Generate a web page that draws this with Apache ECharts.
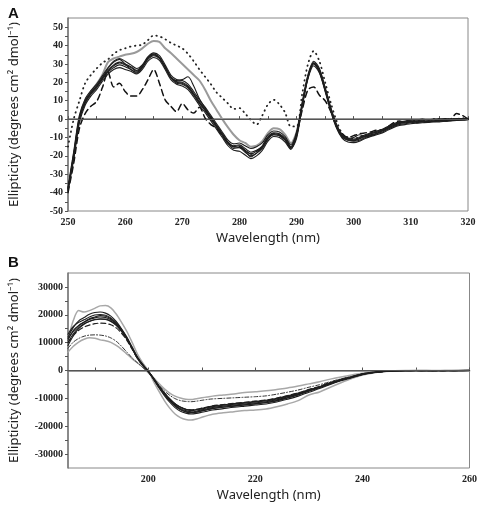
<!DOCTYPE html>
<html>
<head>
<meta charset="utf-8">
<script src="https://cdn.jsdelivr.net/npm/echarts@6/dist/echarts.min.js"></script>
<style>
html,body{margin:0;padding:0;background:#fff;}
#chart{width:480px;height:505px;}
</style>
</head>
<body>
<div id="chart"></div>
<script>
// ---------- Panel A data (near-UV CD) ----------
const wlA = [250,251,252,253,254,255,256,257,258,259,260,261,262,263,264,265,266,267,268,269,270,271,272,273,274,275,276,277,278,279,280,281,282,283,284,285,286,287,288,289,290,291,292,293,294,295,296,297,298,299,300,301,302,303,304,305,306,307,308,309,310,311,312,313,314,315,316,317,318,319,320];

const aBlack0 = [-38,-20,0,9,14,17.5,22,26,29,30.5,29.5,28,26,28.5,33,35,33,28,22.5,20,19.5,17.5,13.5,9,5,0.5,-4,-8.5,-13,-15,-15.5,-17,-19,-17.5,-15,-10,-8,-8.5,-11,-15.5,-8,8,23,30.5,26,16,5,-4,-9.5,-11.3,-11.7,-10.8,-9.5,-8.6,-7.7,-6.5,-5,-3.5,-2.5,-2,-1.5,-1.5,-1.2,-1,-1,-1,-0.8,-0.6,-0.5,-0.3,0];
const aBlack1 = [-37,-18,2,11,15.5,19,23.5,28,31.5,33,31.5,29.5,27.5,29.5,34,36,34.5,29.5,24,21.5,21,19,15,10.5,6.5,2,-2.5,-7,-11.5,-13.5,-13,-14.5,-16,-15,-13,-8.5,-6.5,-7,-9.5,-14,-7,9,24,31.5,27.5,17,6,-3,-8.5,-10.5,-11,-10,-8.5,-7.5,-6.5,-5.5,-4,-2.5,-1.5,-1,-0.5,-0.5,0,-0.5,0,0,0.3,0,0.3,0.2,0.5];
const aBlack2 = [-39,-22,-2,7.5,12.5,16,20.5,24.5,27,28,27,26,24.5,27,31.5,33.5,32,27,21.5,19,18,16,12,7.5,3.5,-1,-5.5,-10,-14.5,-17,-17.5,-19.5,-21.5,-20,-17,-12,-9.5,-10,-12.5,-16.5,-9,7,22,29,25,15,4,-5,-10.5,-12.5,-12.8,-12,-10.5,-9.5,-8.5,-7.5,-6,-4.5,-3.5,-3,-2.5,-2.2,-2,-1.8,-1.5,-1.5,-1.2,-1,-0.8,-0.5,-0.3];
const aBlack3 = [-38.5,-19,1,10,14.5,18,22.5,27.5,31,32.5,30,27,25,28,33.5,35.5,33.5,28.5,23,21,21.5,23,18,11,6,1,-3.5,-8,-12.5,-15,-14.5,-17.5,-20.5,-18.5,-15.5,-10.5,-8.5,-9,-11.5,-15.5,-8.5,8,23.5,30.5,26.5,16.5,5.5,-3.5,-9,-10.5,-10,-8.5,-9.5,-9,-8,-6,-4.5,-3.5,-2,-1.5,-1.5,-1,-1,-1.5,-1,-0.5,-1,-0.5,-0.5,0,0];
const aBlack4 = [-38,-20.5,-0.5,8.5,13.5,17,21.5,25.5,28,29.5,28.5,27,25.5,28,32.5,34.5,33,28,22.5,19.5,19,17,13,8.5,4.5,0,-4.5,-9,-13.5,-16,-15.5,-18,-20,-18.5,-16,-11,-8.5,-9,-11.5,-16,-10.5,7.5,22.5,30,25.5,15.5,4.5,-4.5,-10,-11.5,-12,-11.5,-10,-9,-8,-7,-5.5,-4,-3,-2.5,-2,-1.5,-1.5,-1.2,-1.2,-1,-1,-0.8,-0.5,-0.5,0];
const aBlack5 = [-37.5,-19.5,0.5,9.5,14.5,18,22.5,26.5,29.5,31,30,28.5,26.5,29,33.5,35,33.5,28.5,23,20.5,20,18,14,9.5,5.5,1,-3.5,-8,-12.5,-14.5,-14,-16,-18,-17,-14.5,-9.5,-7.5,-8,-10.5,-15,-9.5,8.5,23,30.5,26.5,16.5,5.5,-3.5,-9,-11,-11.5,-10.5,-9,-8,-7,-6,-4.5,-3,-2,-1.5,-1,-1,-0.5,-0.5,-0.5,0,-0.5,0,0,0.3,0.2];
const aGray = [-38,-19,1,10,15,19,24,31,33,34,35,35.5,36.5,38.5,41,42.5,42,38.5,36,33,30,27,24,21,16,10,5,0,-4.5,-8.5,-11.5,-13,-15,-14.5,-12,-7.5,-5,-5.5,-8.5,-13,-7,8.5,23.5,30.5,26.5,16.5,5.5,-3.5,-9,-10.5,-11,-10,-9,-8,-7,-6,-5,-3.5,-2.5,-2,-1.5,-1.5,-1.5,-1,-1.2,-1,-1,-0.7,-0.5,-0.5,-0.2];
const aDotted = [-15,0,10,19.5,24,27.5,30.5,32.5,35.5,37.5,38.5,39.5,40,40.5,43,45.5,45,43.5,41.5,40,38.5,35.5,31.5,27,23,19,14.5,11.5,8.5,5.5,6,3,-0.5,-3,2,8,10.5,8,3.5,-4,-4,14,30,37,31.5,20,8.7,-1,-8,-10,-10.5,-10,-9,-8,-7,-6,-4.5,-3,-2,-1.5,-1,-1,-0.5,-0.5,0,0,-0.5,0,0,0.5,0];
const aDashed = [-40,-24,-5,3,7,9.5,17,25.5,17.5,19.5,15,12.5,12.5,16,21.5,27,19.5,10.5,7,4,8.5,5,3.3,6.5,0.5,-3,-5,-9,-13,-15,-15,-17,-19,-17.5,-15,-10,-8,-8.5,-11,-15,-8,5,16,17.5,13,10,4,-4,-8,-10,-9,-8,-7.5,-7,-6,-6,-4,-2,-1,-2,-1,-2,-1,-1.5,-1,-0.5,-1,0,3,2,0];

// ---------- Panel B data (far-UV CD) ----------
const wlB = [185,186,187,188,189,190,191,192,193,194,195,196,197,198,199,200,201,202,203,204,205,206,207,208,209,210,211,212,214,216,218,220,222,224,226,228,230,232,234,236,238,240,242,244,246,248,250,252,254,256,258,260];

const bBlack0 = [10900,14400,16200,17400,18600,19200,19700,19500,18600,16900,14500,11500,8000,4400,1900,-300,-3000,-5900,-8300,-10600,-12400,-13600,-14400,-14800,-14600,-14100,-13700,-13300,-12800,-12400,-12000,-11600,-11200,-10500,-9500,-8500,-7100,-6000,-4600,-3400,-2400,-1300,-700,-300,-100,-100,0,-100,0,-100,0,100];
const bBlack1 = [12000,15500,17800,19000,20200,20800,21000,20600,19500,17600,15000,12000,8400,4800,2100,-200,-3200,-6300,-9000,-11400,-13300,-14600,-15300,-15600,-15400,-15000,-14600,-14200,-13700,-13200,-12800,-12400,-12000,-11300,-10300,-9200,-7800,-6500,-5000,-3700,-2600,-1500,-800,-400,-200,-100,-100,0,-100,0,-100,0];
const bBlack2 = [13000,15800,17300,18200,19200,19900,20100,19800,18900,17200,14800,11700,8100,4500,1900,-300,-3100,-6000,-8500,-10800,-12700,-13900,-14700,-15100,-14900,-14400,-14000,-13600,-13100,-12700,-12300,-11900,-11500,-10800,-9800,-8700,-7400,-6200,-4800,-3500,-2500,-1400,-800,-300,-100,-100,0,0,-100,0,0,0];
const bBlack3 = [10000,13200,15400,16800,17700,18300,18600,18500,17800,16400,14200,11300,7900,4300,1800,-300,-2900,-5700,-8100,-10300,-12000,-13200,-14000,-14400,-14200,-13800,-13400,-13000,-12500,-12100,-11700,-11300,-10900,-10200,-9300,-8300,-7000,-5900,-4500,-3300,-2300,-1200,-700,-300,-100,0,-100,0,0,-100,0,0];
const bBlack4 = [9000,12500,15000,16600,17600,18200,18400,18300,17600,16200,14000,11200,7800,4300,1700,-400,-3100,-6000,-8600,-10900,-12800,-14100,-14900,-15200,-15000,-14500,-14100,-13700,-13200,-12800,-12400,-12000,-11600,-10900,-9900,-8800,-7300,-6100,-4700,-3500,-2400,-1400,-700,-300,-200,-100,0,-100,0,0,-100,0];
const bBlack5 = [11500,14000,16000,17300,18300,18900,19200,19000,18200,16700,14400,11500,8000,4400,1900,-200,-2800,-5500,-7900,-10100,-11900,-13100,-13900,-14200,-14000,-13600,-13200,-12800,-12300,-11900,-11500,-11100,-10700,-10000,-9100,-8100,-6900,-5800,-4400,-3200,-2300,-1200,-600,-300,-100,0,0,-100,0,0,0,100];
const bDashed = [10000,12600,14400,15600,16300,16800,17000,16900,16400,15300,13400,10800,7600,4200,1700,-300,-2900,-5700,-8100,-10300,-12000,-13200,-13900,-14100,-13900,-13500,-13100,-12700,-12200,-11800,-11400,-11000,-10600,-9900,-9000,-8000,-6800,-5700,-4300,-3200,-2200,-1200,-600,-200,-100,0,0,0,-100,0,0,0];
const bGrayHigh = [11000,18000,21500,21000,21500,22300,23200,23300,22500,20300,17300,14000,10000,5800,2600,0,-4000,-7500,-10800,-13500,-15600,-16900,-17600,-17800,-17400,-16800,-16200,-15700,-15200,-14800,-14400,-14200,-13800,-13000,-12000,-10800,-8800,-7700,-6000,-4400,-2900,-1600,-900,-400,-200,-100,0,0,-100,0,100,0];
const bGrayLow = [6600,8700,10200,11200,11800,11600,11000,10700,10100,9000,7600,5900,4200,2700,1200,-800,-2600,-4700,-6600,-8100,-9200,-9900,-10300,-10400,-10100,-9800,-9500,-9200,-8800,-8400,-7900,-7600,-7300,-6800,-6300,-5600,-4800,-4000,-3100,-2300,-1600,-1000,-600,-300,-100,0,0,0,0,0,0,100];
const bDashDot = [8000,10200,11500,12300,12700,12800,12700,12400,11700,10500,8700,6600,4500,2700,1000,-700,-3000,-5300,-7300,-8900,-10100,-10800,-11100,-11200,-11000,-10700,-10400,-10200,-10000,-9800,-9600,-9400,-9100,-8500,-7800,-7000,-6000,-5100,-4000,-3000,-2100,-1300,-700,-300,-100,0,0,0,0,0,0,0];

// ---------- Tick labels ----------
const ticksAx = [250,260,270,280,290,300,310,320];
const minorAx = [250,255,260,265,270,275,280,285,290,295,300,305,310,315,320];
const ticksAy = [-50,-40,-30,-20,-10,0,10,20,30,40,50];
const minorAy = [-50,-45,-40,-35,-30,-25,-20,-15,-10,-5,0,5,10,15,20,25,30,35,40,45,50];
const ticksBx = [200,220,240,260];
const minorBx = [190,200,210,220,230,240,250,260];
const ticksBy = [-30000,-20000,-10000,0,10000,20000,30000];
const minorBy = [-30000,-25000,-20000,-15000,-10000,-5000,0,5000,10000,15000,20000,25000,30000];

const yTitle = 'Ellipticity (degrees cm\u00B2 dmol\u207B\u00B9)';
const xTitle = 'Wavelength (nm)';

function pairs(xs, ys){ return xs.map((x,i)=>[x, ys[i]]); }

const tickFont = {fontFamily:'Liberation Serif', fontWeight:'bold', fontSize:10, color:'#222'};
const axisLineStyle = {color:'#777', width:1.5};
const plainNum = v => String(v);

function xAxisCfg(gi, min, max, labels, ticks){
  return {
    type:'value', gridIndex:gi, min:min, max:max,
    name:xTitle, nameLocation:'middle', nameGap:21,
    nameTextStyle:{fontFamily:'Noto Sans', fontSize:13, color:'#222'},
    axisLine:{show:true, lineStyle:axisLineStyle},
    axisTick:{show:true, inside:true, length:3, customValues:ticks, lineStyle:{color:'#555'}},
    axisLabel:Object.assign({customValues:labels, margin:6, formatter:plainNum}, tickFont),
    splitLine:{show:false}
  };
}
function yAxisCfg(gi, min, max, labels, ticks){
  return {
    type:'value', gridIndex:gi, min:min, max:max,
    name:yTitle, nameLocation:'middle', nameGap:47, nameRotate:90,
    nameTextStyle:{fontFamily:'Noto Sans', fontSize:13, color:'#222'},
    axisLine:{show:true, onZero:false, lineStyle:axisLineStyle},
    axisTick:{show:true, inside:false, length:3, customValues:ticks, lineStyle:{color:'#555'}},
    axisLabel:Object.assign({customValues:labels, margin:5, formatter:plainNum}, tickFont),
    splitLine:{show:false}
  };
}

function line(gi, xs, ys, color, width, type, z){
  return {
    type:'line', xAxisIndex:gi, yAxisIndex:gi, data:pairs(xs, ys),
    showSymbol:false, symbol:'none', smooth:0.3, silent:true, z:z||2,
    lineStyle:{color:color, width:width, type:type||'solid', cap:'round'}
  };
}
const zeroLine = {silent:true, symbol:'none', label:{show:false},
  lineStyle:{color:'#555', width:1, type:'solid'}, data:[{yAxis:0}]};

const series = [];
// Panel A
const sA0 = line(0, wlA, aGray, '#9a9a9a', 2, 'solid', 1);
sA0.markLine = zeroLine;
series.push(sA0);
series.push(line(0, wlA, aDotted, '#222', 1.8, [0.5,4.5], 2));
series.push(line(0, wlA, aDashed, '#111', 1.5, [6,4], 2));
[aBlack0,aBlack1,aBlack2,aBlack3,aBlack4,aBlack5].forEach(a=>series.push(line(0, wlA, a, '#1e1e1e', 1.1, 'solid', 3)));
// Panel B
const sB0 = line(1, wlB, bGrayHigh, '#a8a8a8', 1.5, 'solid', 1);
sB0.markLine = zeroLine;
series.push(sB0);
series.push(line(1, wlB, bGrayLow, '#a8a8a8', 1.5, 'solid', 1));
series.push(line(1, wlB, bDashDot, '#333', 1, [4,2,1,2], 2));
series.push(line(1, wlB, bDashed, '#222', 1.2, [5,3], 2));
[bBlack0,bBlack1,bBlack2,bBlack3,bBlack4,bBlack5].forEach(a=>series.push(line(1, wlB, a, '#1e1e1e', 1.1, 'solid', 3)));

const chart = echarts.init(document.getElementById('chart'), null, {renderer:'canvas'});
chart.setOption({
  animation:false,
  backgroundColor:'#fff',
  title:[
    {text:'A', left:3, top:1, textStyle:{fontFamily:'Liberation Sans', fontWeight:'bold', fontSize:15, color:'#111'}},
    {text:'B', left:3, top:250, textStyle:{fontFamily:'Liberation Sans', fontWeight:'bold', fontSize:15, color:'#111'}}
  ],
  grid:[
    {left:67, right:12, top:18, height:193, show:true, borderColor:'#888', borderWidth:1, backgroundColor:'transparent'},
    {left:67, right:10, top:273, height:195, show:true, borderColor:'#888', borderWidth:1, backgroundColor:'transparent'}
  ],
  xAxis:[
    xAxisCfg(0, 250, 320, ticksAx, minorAx),
    xAxisCfg(1, 185, 260, ticksBx, minorBx)
  ],
  yAxis:[
    yAxisCfg(0, -50, 55, ticksAy, minorAy),
    yAxisCfg(1, -35000, 35000, ticksBy, minorBy)
  ],
  series:series
});
</script>
</body>
</html>
